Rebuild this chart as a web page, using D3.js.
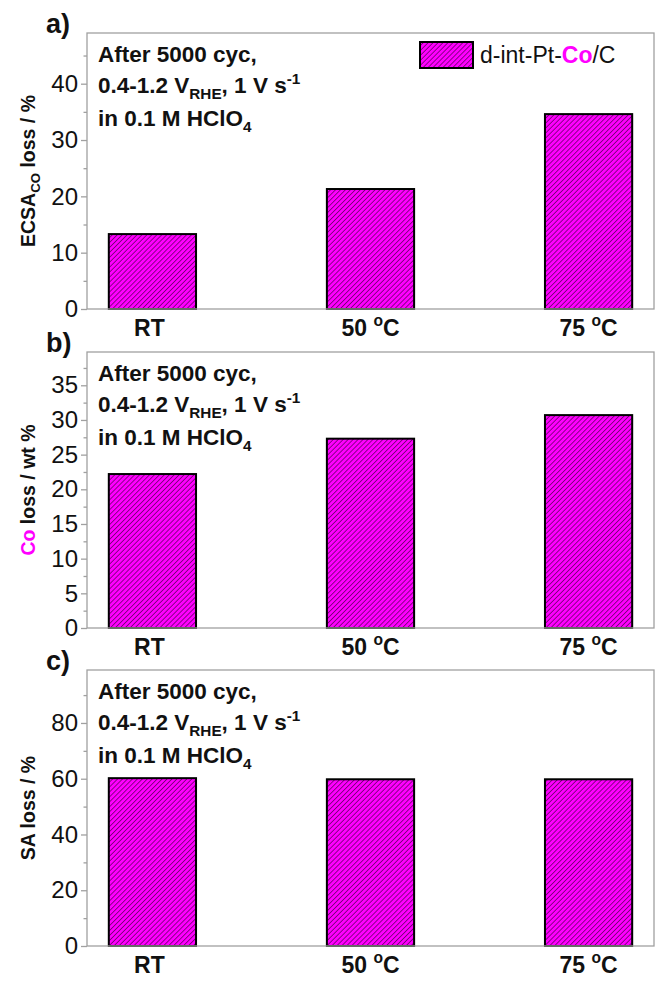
<!DOCTYPE html>
<html>
<head>
<meta charset="utf-8">
<script src="https://cdn.jsdelivr.net/npm/d3@7"></script>
<style>
  html, body { margin: 0; padding: 0; background: #fff; }
  svg { display: block; font-family: "Liberation Sans", Arial, sans-serif; }
</style>
</head>
<body>
<svg id="chart" width="666" height="984"></svg>
<script>
// ---- Data ----
const categories = ["RT", "50", "75"];
const ecsaLoss = [13.3, 21.3, 34.6];
const coLoss = [22.2, 27.3, 30.7];
const saLoss = [60.2, 59.8, 59.8];
const ticksA = [0, 10, 20, 30, 40];
const ticksB = [0, 5, 10, 15, 20, 25, 30, 35];
const ticksC = [0, 20, 40, 60, 80];
const legendLabel = "d-int-Pt-Co/C";

const MAGENTA = "#ff00ff";
const svg = d3.select("#chart");

// hatch pattern
const defs = svg.append("defs");
const pat = defs.append("pattern")
  .attr("id", "hatch").attr("patternUnits", "userSpaceOnUse")
  .attr("width", 3.5).attr("height", 3.5)
  .attr("patternTransform", "rotate(45)");
pat.append("rect").attr("width", 3.5).attr("height", 3.5).attr("fill", MAGENTA);
pat.append("line").attr("x1", 0).attr("y1", 0).attr("x2", 0).attr("y2", 3.5)
  .attr("stroke", "#2a002a").attr("stroke-width", 1.1);

// rich text helper
function rich(sel, segs, size) {
  let shift = 0;
  segs.forEach(s => {
    const ts = sel.append("tspan").text(s.t);
    let target = 0, fs = size;
    if (s.sub) { target = size * 0.28; fs = size * 0.68; }
    if (s.sup) { target = -size * 0.42; fs = size * 0.68; }
    ts.attr("dy", target - shift).attr("font-size", fs);
    shift = target;
    if (s.color) ts.attr("fill", s.color);
    if (s.weight) ts.attr("font-weight", s.weight);
  });
}

const x = d3.scaleLinear().domain([0.7, 3.3]).range([87, 654]);
const barW = x(1.4) - x(1);
const gray = "#a0a0a0";

const panels = [
  { top: 33, max: 49, ticks: ticksA, minorStep: 5, data: ecsaLoss, letter: "a)",
    title: [{t: "ECSA"}, {t: "CO", sub: true}, {t: " loss / %"}], legend: true },
  { top: 352, max: 39.8, ticks: ticksB, minorStep: 2.5, data: coLoss, letter: "b)",
    title: [{t: "Co", color: MAGENTA}, {t: " loss / wt %"}] },
  { top: 670, max: 99, ticks: ticksC, minorStep: 10, data: saLoss, letter: "c)",
    title: [{t: "SA loss / %"}] }
];
const H = 276;

panels.forEach(p => {
  const bottom = p.top + H;
  const y = d3.scaleLinear().domain([0, p.max]).range([bottom, p.top]);
  const g = svg.append("g");

  // bars
  g.selectAll("rect.bar").data(p.data).join("rect")
    .attr("class", "bar")
    .attr("x", (d, i) => x(i + 1) - barW / 2)
    .attr("width", barW)
    .attr("y", d => y(d))
    .attr("height", d => y(0) - y(d))
    .attr("fill", "url(#hatch)")
    .attr("stroke", "#000").attr("stroke-width", 2);

  // frame
  g.append("rect").attr("x", 87).attr("y", p.top).attr("width", 654 - 87).attr("height", H)
    .attr("fill", "none").attr("stroke", gray).attr("stroke-width", 1.3);

  // y axis
  const minors = d3.range(p.minorStep, p.max, p.minorStep * 2).filter(v => v < p.max);
  const axis = d3.axisLeft(y).tickValues(p.ticks).tickSize(6).tickPadding(3)
    .tickFormat(d3.format("d"));
  const ag = g.append("g").attr("transform", "translate(87,0)").call(axis);
  ag.select(".domain").remove();
  ag.selectAll(".tick line").attr("stroke", gray).attr("stroke-width", 1.3);
  ag.selectAll(".tick text").attr("font-size", 24).attr("fill", "#111")
    .attr("font-family", "Liberation Sans, Arial, sans-serif");
  const mg = g.append("g").attr("transform", "translate(87,0)").call(
    d3.axisLeft(y).tickValues(minors).tickSize(3.5).tickFormat(""));
  mg.select(".domain").remove();
  mg.selectAll(".tick line").attr("stroke", gray).attr("stroke-width", 1.3);

  // category labels
  categories.forEach((c, i) => {
    const t = g.append("text").attr("x", x(i + 1) - (i === 0 ? 3 : 0)).attr("y", bottom + 27)
      .attr("text-anchor", "middle").attr("font-weight", "bold").attr("font-size", 23).attr("fill", "#111");
    if (c === "RT") rich(t, [{t: "RT"}], 23);
    else rich(t, [{t: c + " "}, {t: "o", sup: true}, {t: "C"}], 23);
  });

  // panel letter
  g.append("text").attr("x", 46).attr("y", p.top).attr("font-weight", "bold")
    .attr("font-size", 27).attr("fill", "#111").text(p.letter);

  // y title
  const tt = g.append("text")
    .attr("transform", `translate(35,${(p.top + bottom) / 2}) rotate(-90)`)
    .attr("text-anchor", "middle").attr("font-weight", "bold").attr("font-size", 19.5).attr("fill", "#111");
  rich(tt, p.title, 19.5);

  // annotation
  const lines = [
    [{t: "After 5000 cyc,"}],
    [{t: "0.4-1.2 V"}, {t: "RHE", sub: true}, {t: ", 1 V s"}, {t: "-1", sup: true}],
    [{t: "in 0.1 M HClO"}, {t: "4", sub: true}]
  ];
  const offs = [29, 60, 93];
  lines.forEach((ln, k) => {
    const t = g.append("text").attr("x", 98).attr("y", p.top + offs[k])
      .attr("font-weight", "bold").attr("font-size", 22.5).attr("fill", "#111");
    rich(t, ln, 22.5);
  });

  // legend
  if (p.legend) {
    g.append("rect").attr("x", 420).attr("y", 42).attr("width", 53).attr("height", 26)
      .attr("fill", "url(#hatch)").attr("stroke", "#000").attr("stroke-width", 2);
    const lt = g.append("text").attr("x", 480).attr("y", 63).attr("font-size", 23).attr("fill", "#111");
    const idx = legendLabel.indexOf("Co");
    rich(lt, [
      {t: legendLabel.slice(0, idx)},
      {t: "Co", color: MAGENTA, weight: "bold"},
      {t: legendLabel.slice(idx + 2)}
    ], 23);
  }
});
</script>
</body>
</html>
